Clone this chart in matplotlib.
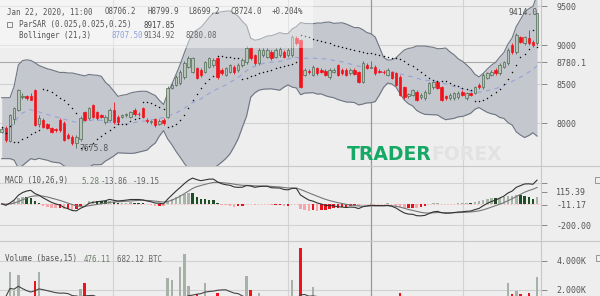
import numpy as np
import pandas as pd
from matplotlib import pyplot as plt
from matplotlib.patches import Rectangle

# ---- data (hourly candles) ----
opens = [7890, 7936, 7770, 8050, 8170, 8330, 8340, 8340, 8420, 7990,
         8040, 7990, 7930, 7920, 8040, 8000, 7850, 7820, 7740, 7790,
         8140, 8060, 8230, 8140, 8100, 8010, 8040, 8170, 8080, 8080,
         8100, 8080, 8170, 8120, 8190, 8040, 8010, 8050, 7990, 8040,
         8077, 8450, 8490, 8510, 8590, 8720, 8660, 8700, 8680, 8660,
         8720, 8740, 8830, 8680, 8620, 8660, 8720, 8680, 8740, 8780,
         8960, 8870, 8770, 8870, 8850, 8910, 8850, 8870, 8910, 8870,
         8870, 9090, 9064, 8615, 8670, 8615, 8700, 8680, 8670, 8590,
         8660, 8740, 8680, 8680, 8640, 8680, 8650, 8530, 8745, 8706.2,
         8720, 8670, 8660, 8620, 8655, 8640, 8590, 8460, 8340, 8360,
         8400, 8330, 8320, 8385, 8460, 8525, 8460, 8340, 8320, 8320,
         8330, 8400, 8320, 8385, 8385, 8490, 8460, 8580, 8615, 8680,
         8640, 8720, 8770, 9000, 8910, 9100, 9025, 9090, 9040, 9025]
closes = [7920, 7782, 8100, 8190, 8420, 8350, 8320, 8300, 7980, 8060,
          7950, 7940, 7890, 7910, 7910, 7780, 7810, 7745, 7820, 8064,
          8040, 8190, 8080, 8060, 8080, 8080, 8170, 8010, 8010, 8100,
          8110, 8140, 8110, 8110, 8080, 8020, 8020, 7970, 8030, 8000,
          8449, 8490, 8590, 8655, 8770, 8830, 8830, 8580, 8615, 8780,
          8830, 8810, 8590, 8640, 8700, 8740, 8650, 8745, 8810, 8960,
          8830, 8770, 8940, 8940, 8936, 8830, 8936, 8950, 8850, 8936,
          9100, 9025, 8460, 8680, 8650, 8720, 8640, 8660, 8615, 8680,
          8680, 8615, 8640, 8615, 8680, 8630, 8525, 8770, 8705, 8724.0,
          8640, 8660, 8650, 8680, 8580, 8490, 8360, 8330, 8370, 8420,
          8295, 8360, 8400, 8515, 8525, 8450, 8295, 8320, 8360, 8385,
          8390, 8360, 8385, 8360, 8460, 8460, 8615, 8640, 8655, 8640,
          8745, 8780, 8936, 8910, 9128, 9040, 9100, 9025, 9000, 9410]
highs = [7950, 7960, 8120, 8210, 8440, 8380, 8360, 8380, 8440, 8100,
         8060, 8000, 7950, 7940, 8060, 8020, 7870, 7840, 7840, 8090,
         8160, 8210, 8250, 8160, 8120, 8100, 8190, 8270, 8100, 8120,
         8130, 8160, 8190, 8140, 8210, 8060, 8040, 8070, 8050, 8060,
         8470, 8510, 8610, 8680, 8800, 8860, 8850, 8720, 8700, 8800,
         8850, 8830, 8850, 8700, 8720, 8760, 8740, 8770, 8830, 8990,
         8980, 8890, 8960, 8960, 8960, 8930, 8960, 8970, 8930, 8960,
         9130, 9110, 9080, 8700, 8690, 8740, 8720, 8700, 8690, 8700,
         8700, 8760, 8700, 8700, 8700, 8700, 8670, 8790, 8770, 8799.9,
         8740, 8690, 8680, 8700, 8670, 8660, 8610, 8480, 8390, 8440,
         8420, 8380, 8420, 8530, 8545, 8540, 8480, 8360, 8380, 8400,
         8410, 8420, 8400, 8400, 8480, 8510, 8640, 8660, 8680, 8700,
         8770, 8800, 8960, 9020, 9150, 9120, 9120, 9190, 9060, 9414]
lows = [7870, 7760, 7757, 7990, 8150, 8310, 8300, 8290, 7960, 7950,
        7930, 7920, 7870, 7890, 7890, 7770, 7790, 7720, 7676, 7770,
        8020, 8040, 8060, 8040, 8060, 7990, 8020, 7990, 7990, 8060,
        8080, 8060, 8090, 8090, 8060, 8000, 7990, 7950, 7970, 7980,
        8060, 8430, 8470, 8490, 8570, 8700, 8640, 8560, 8590, 8640,
        8700, 8720, 8570, 8620, 8600, 8640, 8630, 8660, 8720, 8760,
        8810, 8750, 8750, 8850, 8830, 8810, 8830, 8850, 8830, 8850,
        8850, 9000, 8450, 8600, 8630, 8600, 8620, 8640, 8600, 8570,
        8640, 8600, 8620, 8600, 8620, 8610, 8510, 8510, 8690, 8699.2,
        8620, 8640, 8630, 8600, 8560, 8470, 8340, 8310, 8320, 8340,
        8280, 8310, 8300, 8370, 8440, 8430, 8280, 8300, 8300, 8300,
        8310, 8340, 8300, 8340, 8370, 8440, 8440, 8560, 8600, 8620,
        8620, 8700, 8750, 8890, 8890, 9020, 9000, 9000, 8980, 9000]
volumes = [1500, 1600, 3222, 1920, 3046, 1300, 1100, 1200, 2620, 3222,
           1500, 1200, 1100, 900, 1300, 1600, 1000, 1200, 1500, 2090,
           2480, 1300, 1400, 1000, 800, 900, 1100, 1400, 900, 700,
           600, 700, 800, 600, 900, 700, 600, 900, 700, 800,
           2810, 2680, 1500, 3590, 4500, 2250, 1400, 1700, 1200, 2500,
           1300, 1000, 1780, 1100, 900, 1000, 1100, 900, 1200, 2940,
           1975, 1400, 1800, 1000, 900, 1100, 800, 900, 900, 1000,
           2680, 1500, 4880, 1600, 1200, 2220, 800, 700, 700, 600,
           500, 700, 500, 600, 400, 500, 700, 800, 500, 476.11,
           600, 400, 400, 500, 700, 1000, 1780, 1200, 700, 600,
           900, 500, 600, 900, 700, 700, 1200, 600, 500, 500,
           500, 400, 500, 400, 700, 600, 1100, 700, 600, 600,
           900, 900, 2500, 1700, 1900, 1750, 1200, 1800, 1300, 2870]

price_ticks = [9500, 9000, 8500, 8000]
last_line = 8780.1
macd_ticks = [200, 115.39, -11.17, -200]
vol_ticks = [4000, 2000]
day_lines = [26.8, 69.0, 111.2]
cross_idx = 89
high_mark, low_mark = 9414.0, 7675.8

df = pd.DataFrame({"o": opens, "h": highs, "l": lows, "c": closes, "v": volumes})
n = len(df)
idx = np.arange(n)

# Bollinger (21, 3)
mid = df.c.rolling(21, min_periods=3).mean().bfill()
sd = df.c.rolling(21, min_periods=3).std(ddof=0).bfill()
upper = mid + 3 * sd
lower = mid - 3 * sd

# Parabolic SAR (0.025, 0.025, 0.25)
def par_sar(h, l, c, step=0.025, max_af=0.25):
    sar = np.zeros(len(h))
    up = c[1] > c[0]
    sar[0] = l[0] if up else h[0]
    ep = h[0] if up else l[0]
    af = step
    for i in range(1, len(h)):
        s = sar[i - 1] + af * (ep - sar[i - 1])
        if up:
            s = min(s, l[i - 1], l[max(i - 2, 0)])
            if l[i] < s:
                up, s, ep, af = False, ep, l[i], step
            elif h[i] > ep:
                ep, af = h[i], min(af + step, max_af)
        else:
            s = max(s, h[i - 1], h[max(i - 2, 0)])
            if h[i] > s:
                up, s, ep, af = True, ep, h[i], step
            elif l[i] < ep:
                ep, af = l[i], min(af + step, max_af)
        sar[i] = s
    return sar

sar = par_sar(df.h.values, df.l.values, df.c.values)

# MACD (10, 26, 9)
macd = df.c.ewm(span=10, adjust=False).mean() - df.c.ewm(span=26, adjust=False).mean()
signal = macd.ewm(span=9, adjust=False).mean()
hist = macd - signal
dh = hist.diff().fillna(0)
hist_col = np.where(hist >= 0, np.where(dh >= 0, "#a9b4a9", "#1f4d26"),
                    np.where(dh < 0, "#f5a6ab", "#e8121c"))

vol_ma = df.v.rolling(15, min_periods=1).mean()

# ---- figure ----
BG = "#eeeeee"
GRID = "#d2d2d2"
TXT = "#555555"
MONO = "DejaVu Sans Mono"
FS = 5.45

fig = plt.figure(figsize=(6, 2.96), dpi=100, facecolor=BG)

def px_axes(x0, y0, x1, y1):
    a = fig.add_axes([x0 / 600, 1 - y1 / 296, (x1 - x0) / 600, (y1 - y0) / 296])
    a.set_facecolor(BG)
    for s in a.spines.values():
        s.set_visible(False)
    a.spines["right"].set_visible(True)
    a.spines["right"].set_color("#c8c8c8")
    a.set_xlim(-0.41, 129.95)
    a.set_xticks([])
    a.yaxis.tick_right()
    a.tick_params(axis="y", length=4, width=0.7, color="#888888", pad=7,
                  labelsize=FS + 0.5, labelcolor=TXT)
    for d in day_lines:
        a.axvline(d, color=GRID, lw=0.8, zorder=0)
    a.axvline(cross_idx, color="#999999", lw=0.9, zorder=0.5)
    return a

ax = px_axes(0, 0, 541, 166)
ax_m = px_axes(0, 166, 541, 241)
ax_v = px_axes(0, 241, 541, 296)

# separators
for yy in (166, 241):
    fig.add_artist(plt.Line2D([0, 1], [1 - yy / 296] * 2, color="#c8c8c8", lw=0.8))

# main panel
ax.set_ylim(7449, 9577)
for t in price_ticks:
    ax.axhline(t, color=GRID, lw=0.8, zorder=0)
ax.axhline(last_line, color="#a8a8a8", lw=0.8, zorder=0.6)
ax.set_yticks(price_ticks + [last_line])
ax.set_yticklabels([str(t) for t in price_ticks] + [f"{last_line:.1f}"], fontfamily=MONO)

ax.fill_between(idx, lower, upper, color="#c4c7ce", zorder=1, lw=0)
ax.plot(idx, upper, color="#6e7682", lw=0.8, zorder=1.2)
ax.plot(idx, lower, color="#6e7682", lw=0.8, zorder=1.2)
ax.plot(idx, mid, color="#98a3d6", lw=0.8, ls=(0, (4, 4)), zorder=1.3)

upc = df.c >= df.o
for m, fc, ec in ((upc, "#b9c3b9", "#4f6b52"), (~upc, "#f2121c", "#f2121c")):
    ax.vlines(idx[m], df.l[m], df.h[m], color=ec, lw=0.6, zorder=2)
    ax.bar(idx[m], (df.c - df.o)[m], bottom=df.o[m], width=0.6,
           color=fc, edgecolor=ec, lw=0.5, zorder=2.1)

ax.scatter(idx, sar, s=1.2, color="#111111", lw=0, zorder=3)

ax.add_patch(Rectangle((0, 1 - 48 / 166), 313 / 541, 48 / 166, transform=ax.transAxes,
                       color="white", alpha=0.4, lw=0, zorder=4))

ax.text(129.2, high_mark, f"{high_mark:.1f}", ha="right", va="center", fontsize=FS + 0.3,
        fontfamily=MONO, color=TXT, zorder=5)
ax.text(18.7, low_mark, f"{low_mark:.1f}", ha="left", va="center", fontsize=FS + 0.3,
        fontfamily=MONO, color=TXT, zorder=5)

# legend texts
def ftext(x, y, s, color=TXT, **kw):
    fig.text(x / 600, 1 - y / 296, s, fontsize=FS, fontfamily=MONO, color=color,
             va="center", ha="left", zorder=10, **kw)

ftext(7, 12, "Jan 22, 2020, 11:00")
for x, s in ((105, "O8706.2"), (147, "H8799.9"), (188, "L8699.2"), (230, "C8724.0"), (272, "+0.204%")):
    ftext(x, 12, s)
fig.add_artist(Rectangle((7 / 600, 1 - 27 / 296), 5 / 600, 5 / 296, fill=False,
                         ec="#777777", lw=0.6))
ftext(19, 25, "ParSAR (0.025,0.025,0.25)")
ftext(143, 25, "8917.85", color="#444444")
ftext(19, 36, "Bollinger (21,3)")
ftext(111, 36, "8707.50", color="#8f9fe0")
ftext(143, 36, "9134.92", color="#666666")
ftext(185, 36, "8280.08", color="#666666")

# watermark
fig.text(347 / 600, 1 - 155 / 296, "TRADER", fontsize=13.5, fontweight="bold",
         color="#16a865", va="center", ha="left", family="DejaVu Sans", zorder=9)
fig.text(431 / 600, 1 - 155 / 296, "FOREX", fontsize=13.5, fontweight="bold",
         color="#e2e2e2", va="center", ha="left", family="DejaVu Sans", zorder=9)

# MACD panel
ax_m.set_ylim(-350.8, 356.7)
for t in (200, -200):
    ax_m.axhline(t, color=GRID, lw=0.8, zorder=0)
ax_m.axhline(0, color="#f0b0b4", lw=0.6, ls=(0, (2, 2)), zorder=0.5)
ax_m.bar(idx, hist, width=0.6, color=hist_col, zorder=2)
ax_m.plot(idx, signal, color="#777777", lw=0.8, zorder=3)
ax_m.plot(idx, macd, color="#333333", lw=0.8, zorder=3)
ax_m.set_yticks(macd_ticks)
ax_m.set_yticklabels(["", "115.39", "-11.17", "-200.00"], fontfamily=MONO)
ax_m.get_yticklines()[4].set_color("#e8121c")
ftext(5, 181, "MACD (10,26,9)")
ftext(81, 181, "5.28", color="#6b7f6b")
ftext(101, 181, "-13.86", color="#666666")
ftext(133, 181, "-19.15", color="#666666")
fig.add_artist(Rectangle((595 / 600, 1 - 183 / 296), 6 / 600, 6 / 296, fill=False,
                         ec="#888888", lw=0.6))

# volume panel (4.000K at ~261px, 2.000K at ~290px)
ax_v.set_ylim(1586, 5379)
for t in vol_ticks:
    ax_v.axhline(t, color=GRID, lw=0.8, zorder=0)
vcol = np.where(upc, "#a7b1a7", "#f0121c")
ax_v.bar(idx, df.v, width=0.6, color=vcol, zorder=2)
ax_v.plot(idx, vol_ma, color="#444444", lw=0.8, zorder=3)
ax_v.set_yticks(vol_ticks)
ax_v.set_yticklabels([f"{t / 1000:.3f}K" for t in vol_ticks], fontfamily=MONO)
ftext(5, 259, "Volume (base,15)")
ftext(84, 259, "476.11", color="#6b7f6b")
ftext(117, 259, "682.12 BTC", color="#666666")
fig.add_artist(Rectangle((596 / 600, 1 - 261 / 296), 6 / 600, 6 / 296, fill=False,
                         ec="#888888", lw=0.6))

fig.savefig("out.png", dpi=100, facecolor=BG)
